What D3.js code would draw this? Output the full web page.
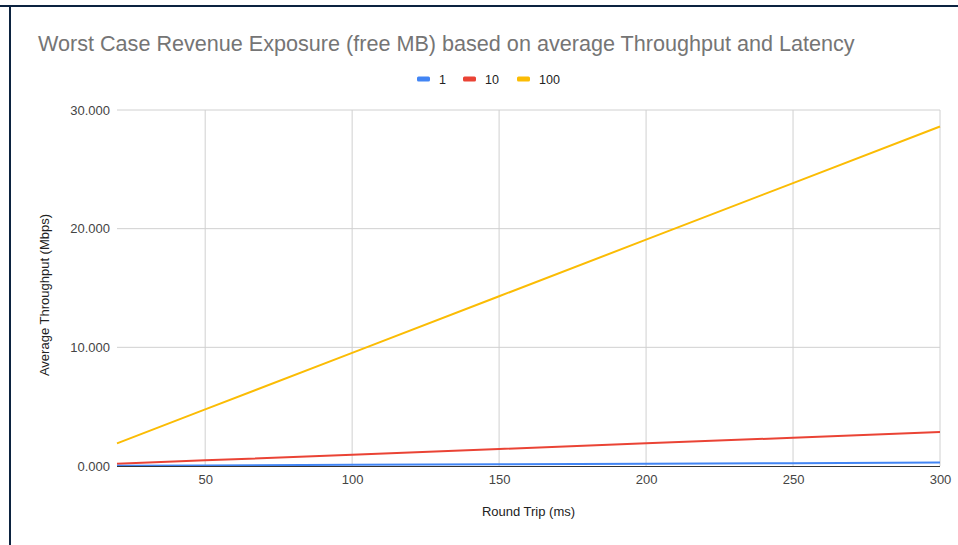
<!DOCTYPE html>
<html>
<head>
<meta charset="utf-8">
<script src="https://cdn.jsdelivr.net/npm/d3@7"></script>
<style>
  body { margin: 0; background: #fff; font-family: "Liberation Sans", Arial, sans-serif; }
</style>
</head>
<body>
<div id="chart"></div>
<script>
// data
const roundTrip = [20, 50, 100, 150, 200, 250, 300];
const series1 = [0.019, 0.048, 0.095, 0.143, 0.191, 0.238, 0.286];
const series10 = [0.191, 0.477, 0.954, 1.431, 1.907, 2.384, 2.861];
const series100 = [1.907, 4.768, 9.537, 14.305, 19.073, 23.842, 28.610];
const seriesNames = ['1', '10', '100'];
const seriesColors = ['#4285f4', '#ea4335', '#fbbc04'];
const xTicks = [50, 100, 150, 200, 250, 300];
const yTicks = [0, 10, 20, 30];
const yTickLabels = ['0.000', '10.000', '20.000', '30.000'];

const width = 958, height = 545;
const margin = {top: 110, right: 18, bottom: 79, left: 117};
const w = width - margin.left - margin.right;
const h = height - margin.top - margin.bottom;

const svg = d3.select('#chart').append('svg')
    .attr('width', width)
    .attr('height', height);

// frame edges (top and left)
svg.append('line').attr('x1', 0).attr('x2', width).attr('y1', 6).attr('y2', 6)
    .attr('stroke', '#0c2340').attr('stroke-width', 2);
svg.append('line').attr('x1', 10).attr('x2', 10).attr('y1', 5).attr('y2', height)
    .attr('stroke', '#0c2340').attr('stroke-width', 2);

svg.append('text')
    .attr('x', 38).attr('y', 51)
    .attr('font-size', 21.6)
    .attr('fill', '#757575')
    .text('Worst Case Revenue Exposure (free MB) based on average Throughput and Latency');

// legend
const legend = svg.append('g').attr('transform', 'translate(417, 79)');
const legendX = [0, 46, 100];
seriesNames.forEach((name, i) => {
    const g = legend.append('g').attr('transform', `translate(${legendX[i]}, 0)`);
    g.append('rect').attr('x', 0).attr('y', -2.5).attr('width', 13).attr('height', 5)
        .attr('rx', 1.5).attr('fill', seriesColors[i]);
    g.append('text').attr('x', 22).attr('y', 4.5)
        .attr('font-size', 12.5).attr('fill', '#222').text(name);
});

const plot = svg.append('g').attr('transform', `translate(${margin.left}, ${margin.top})`);

const xScale = d3.scaleLinear().domain([20, 300]).range([0, w]);
const yScale = d3.scaleLinear().domain([0, 30]).range([h, 0]);

// grid
plot.append('g').selectAll('line').data(yTicks.slice(1)).join('line')
    .attr('x1', 0).attr('x2', w)
    .attr('y1', d => yScale(d)).attr('y2', d => yScale(d))
    .attr('stroke', '#d0d0d0');
plot.append('g').selectAll('line').data(xTicks).join('line')
    .attr('x1', d => xScale(d)).attr('x2', d => xScale(d))
    .attr('y1', 0).attr('y2', h)
    .attr('stroke', '#d0d0d0');

// axes
const xAxis = d3.axisBottom(xScale).tickValues(xTicks).tickSize(0).tickPadding(9);
const yAxis = d3.axisLeft(yScale).tickValues(yTicks).tickSize(0).tickPadding(7)
    .tickFormat((d, i) => yTickLabels[i]);
const xAxisG = plot.append('g').attr('transform', `translate(0, ${h})`).call(xAxis);
const yAxisG = plot.append('g').call(yAxis);
[xAxisG, yAxisG].forEach(g => {
    g.select('.domain').remove();
    g.selectAll('text').attr('font-size', 13).attr('fill', '#444')
        .attr('font-family', '"Liberation Sans", Arial, sans-serif');
});

// lines
const allSeries = [series1, series10, series100];
const line = d3.line().x((d, i) => xScale(roundTrip[i])).y(d => yScale(d));
[2, 1, 0].forEach(k => {
    plot.append('path')
        .datum(allSeries[k])
        .attr('fill', 'none')
        .attr('stroke', seriesColors[k])
        .attr('stroke-width', 2)
        .attr('d', line);
});

// baseline
plot.append('line').attr('x1', 0).attr('x2', w).attr('y1', h + 0.5).attr('y2', h + 0.5)
    .attr('stroke', '#333').attr('stroke-width', 1);

// axis titles
svg.append('text')
    .attr('x', margin.left + w / 2).attr('y', 516)
    .attr('text-anchor', 'middle')
    .attr('font-size', 13).attr('fill', '#222')
    .text('Round Trip (ms)');
svg.append('text')
    .attr('transform', `translate(49, ${margin.top + h / 2 + 7}) rotate(-90)`)
    .attr('text-anchor', 'middle')
    .attr('font-size', 13).attr('fill', '#222')
    .text('Average Throughput (Mbps)');
</script>
</body>
</html>
